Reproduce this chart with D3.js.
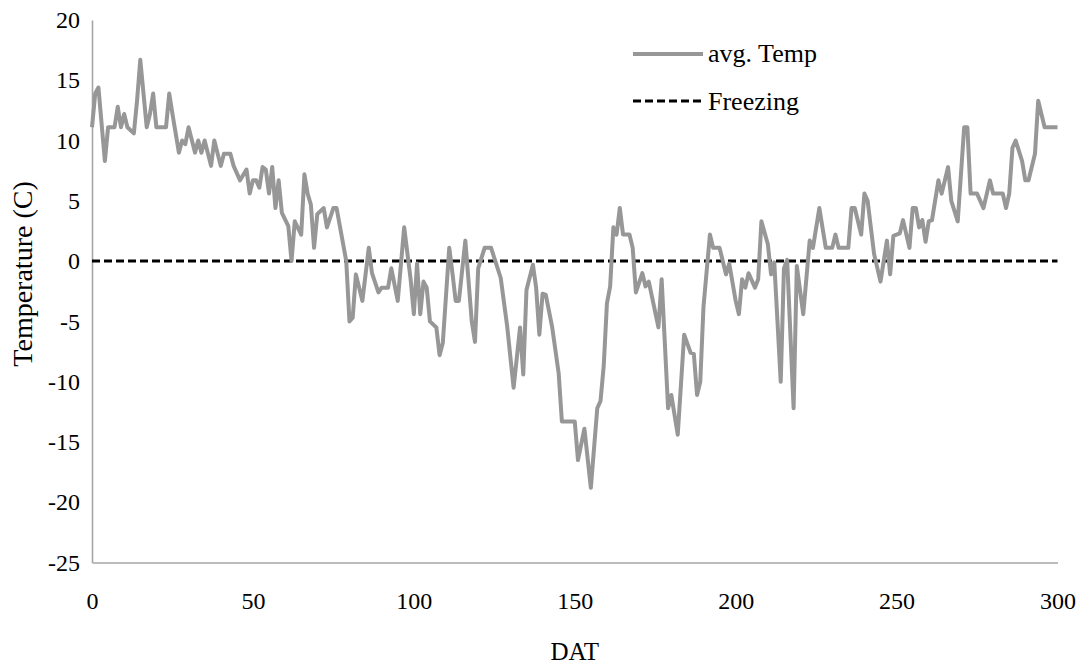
<!DOCTYPE html>
<html><head><meta charset="utf-8">
<script src="https://cdn.jsdelivr.net/npm/d3@7"></script>
<style>body{margin:0;background:#fff}svg{display:block}svg text{font-family:"Liberation Serif",Tinos,"Times New Roman",serif;fill:#000}</style>
</head><body>
<svg id="c" width="1078" height="665"></svg>
<script>
// Day after transplant (DAT) and average temperature (C)
const days = [0,1,2,4,5,7,8,9,10,11,13,14,15,17,18,19,20,23,24,25,27,28,29,30,32,33,34,35,37,38,40,41,43,44,46,48,49,50,51,52,53,54,55,56,57,58,59,61,62,63,65,66,67,68,69,70,72,73,75,76,79,80,81,82,84,86,87,89,90,92,93,95,97,99,100,101,102,103,104,105,107,108,109,111,112,113,114,116,118,119,120,122,124,127,129,131,133,134,135,137,138,139,140,141,143,145,146,150,151,153,155,157,158,159,160,161,162,163,164,165,167,168,169,171,172,173,176,177,179,180,182,184,186,187,188,189,190,192,193,195,197,198,200,201,202,203,204,206,207,208,210,211,212,214,215,216,218,219,221,223,224,226,228,230,231,232,235,236,237,239,240,241,243,245,247,248,249,251,252,254,255,256,257,258,259,260,261,263,264,266,267,269,271,272,273,275,277,279,280,283,284,285,286,287,289,290,291,293,294,296,300];
const avgTemp = [11.1,13.9,14.4,8.3,11.1,11.1,12.8,11.1,12.2,11.1,10.6,13.3,16.7,11.1,12.2,13.9,11.1,11.1,13.9,12.2,9.0,10.0,9.7,11.1,9.0,10.0,9.0,10.0,7.9,10.0,7.9,8.9,8.9,7.9,6.7,7.6,5.6,6.7,6.7,6.1,7.8,7.6,5.6,7.8,4.4,6.7,4.0,2.9,0.0,3.3,2.2,7.2,5.6,4.7,1.1,3.9,4.4,2.8,4.4,4.4,0.0,-5.0,-4.7,-1.1,-3.3,1.1,-1.0,-2.6,-2.2,-2.2,-0.6,-3.3,2.8,-1.5,-4.4,-0.2,-4.4,-1.7,-2.2,-5.0,-5.5,-7.8,-6.8,1.1,-1.0,-3.3,-3.3,1.7,-5.0,-6.7,-0.6,1.1,1.1,-1.4,-5.4,-10.5,-5.5,-9.4,-2.4,-0.3,-2.2,-6.1,-2.7,-2.8,-5.5,-9.3,-13.3,-13.3,-16.5,-13.9,-18.8,-12.2,-11.6,-8.7,-3.5,-2.1,2.8,2.2,4.4,2.2,2.2,1.1,-2.6,-1.0,-2.1,-1.7,-5.5,-1.5,-12.2,-11.1,-14.4,-6.1,-7.6,-7.7,-11.1,-10.0,-3.8,2.2,1.1,1.1,-1.1,-0.2,-3.3,-4.4,-1.5,-2.2,-1.0,-2.2,-1.5,3.3,1.4,-1.1,-0.1,-10.0,-0.6,0.1,-12.2,-0.4,-4.4,1.7,1.1,4.4,1.1,1.1,2.2,1.1,1.1,4.4,4.4,2.2,5.6,5.0,0.6,-1.7,1.7,-1.1,2.1,2.3,3.4,1.1,4.4,4.4,2.8,3.4,1.6,3.3,3.4,6.7,5.6,7.8,5.0,3.3,11.1,11.1,5.6,5.6,4.4,6.7,5.6,5.6,4.4,5.6,9.4,10.0,8.3,6.7,6.7,8.9,13.3,11.1,11.1];
const freezing = [0, 0];
const freezeDays = [0, 300];
const xTicks = [0,50,100,150,200,250,300];
const yTicks = [20,15,10,5,0,-5,-10,-15,-20,-25];
const seriesNames = ["avg. Temp","Freezing"];

const FONT = '"Liberation Serif", Tinos, "Times New Roman", serif';
const svg = d3.select("#c");
const x = d3.scaleLinear().domain([0,300]).range([92,1057.5]);
const y = d3.scaleLinear().domain([-25,20]).range([562.5,20]);
const axisColor = "#a6a6a6";

// axes
const gx = svg.append("g").attr("transform",`translate(0,${y(-25)})`)
  .call(d3.axisBottom(x).tickValues(xTicks).tickFormat(d=>String(d)).tickSize(0).tickPadding(29));
const gy = svg.append("g").attr("transform",`translate(${x(0)},0)`)
  .call(d3.axisLeft(y).tickValues(yTicks).tickFormat(d=>String(d)).tickSize(0).tickPadding(12));
[gx,gy].forEach(g=>{
  g.attr("font-family",null).attr("font-size",null);
  g.select(".domain").attr("stroke",axisColor).attr("stroke-width",1.6);
  g.selectAll("text").style("font-family",FONT).style("font-size","24px").attr("fill","#000");
});

// lines
const line = d3.line().x(d=>x(d[0])).y(d=>y(d[1]));
svg.append("path").datum(freezeDays.map((d,i)=>[d,freezing[i]]))
  .attr("d",line).attr("fill","none").attr("stroke","#000").attr("stroke-width",3).attr("stroke-dasharray","8,4");
svg.append("path").datum(days.map((d,i)=>[d,avgTemp[i]]))
  .attr("d",line).attr("fill","none").attr("stroke","#979797").attr("stroke-width",4).attr("stroke-linejoin","round");

// titles
svg.append("text").attr("x",(x(0)+x(300))/2).attr("y",660).attr("text-anchor","middle").style("font-size","25px").text("DAT");
svg.append("text").attr("transform",`translate(32,274) rotate(-90)`).attr("text-anchor","middle").style("font-size","28px").text("Temperature (C)");

// legend
const leg = svg.append("g");
leg.append("line").attr("x1",633).attr("x2",703).attr("y1",54).attr("y2",54).attr("stroke","#979797").attr("stroke-width",4);
leg.append("text").attr("x",708).attr("y",62).style("font-size","26px").text(seriesNames[0]);
leg.append("line").attr("x1",633).attr("x2",703).attr("y1",101).attr("y2",101).attr("stroke","#000").attr("stroke-width",3).attr("stroke-dasharray","8,4");
leg.append("text").attr("x",708).attr("y",110).style("font-size","26px").text(seriesNames[1]);
</script>
</body></html>
